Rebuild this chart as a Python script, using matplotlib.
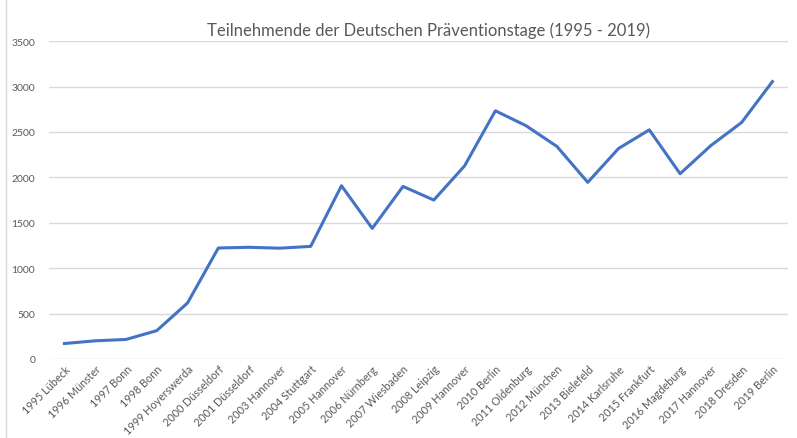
import matplotlib
matplotlib.use("Agg")
import matplotlib.pyplot as plt

plt.rcParams['font.family'] = ['Lato', 'DejaVu Sans']

orte = ["1995 Lübeck", "1996 Münster", "1997 Bonn", "1998 Bonn", "1999 Hoyerswerda",
        "2000 Düsseldorf", "2001 Düsseldorf", "2003 Hannover", "2004 Stuttgart",
        "2005 Hannover", "2006 Nürnberg", "2007 Wiesbaden", "2008 Leipzig",
        "2009 Hannover", "2010 Berlin", "2011 Oldenburg", "2012 München",
        "2013 Bielefeld", "2014 Karlsruhe", "2015 Frankfurt", "2016 Magdeburg",
        "2017 Hannover", "2018 Dresden", "2019 Berlin"]
teilnehmer = [170, 200, 215, 312, 617, 1222, 1230, 1220, 1240, 1908, 1438, 1900,
              1750, 2127, 2733, 2568, 2340, 1945, 2318, 2523, 2040, 2350, 2605, 3055]
y_ticks = [0, 500, 1000, 1500, 2000, 2500, 3000, 3500]

grau = '#595959'

fig = plt.figure(figsize=(7.97, 4.39), dpi=100)
ax = fig.add_axes([0.0615, 0.18, 0.927, 0.724])

x = range(len(orte))
ax.plot(x, teilnehmer, color='#4472C4', linewidth=2.2, solid_joinstyle='round')

ax.set_xlim(-0.5, len(orte) - 0.5)
ax.set_ylim(0, 3500)
ax.set_yticks(y_ticks)
ax.set_yticklabels([str(v) for v in y_ticks], fontsize=7.5, color=grau)
ax.set_xticks(list(x))
ax.set_xticklabels(orte, rotation=45, ha='right', rotation_mode='anchor',
                   fontsize=7.8, color=grau)
ax.tick_params(length=0, pad=10)
ax.tick_params(axis='x', pad=3)
ax.grid(axis='y', color='#d9d9d9', linewidth=1)
ax.set_axisbelow(True)
for s in ax.spines.values():
    s.set_visible(False)

fig.text(0.538, 0.93, "Teilnehmende der Deutschen Präventionstage (1995 - 2019)",
         ha='center', va='center', fontsize=12, color=grau)

# linker Rahmen
fig.add_artist(plt.Line2D([0.008, 0.008], [0.0, 1.0], color='#d9d9d9', linewidth=1))

fig.savefig("out.png", dpi=100)
